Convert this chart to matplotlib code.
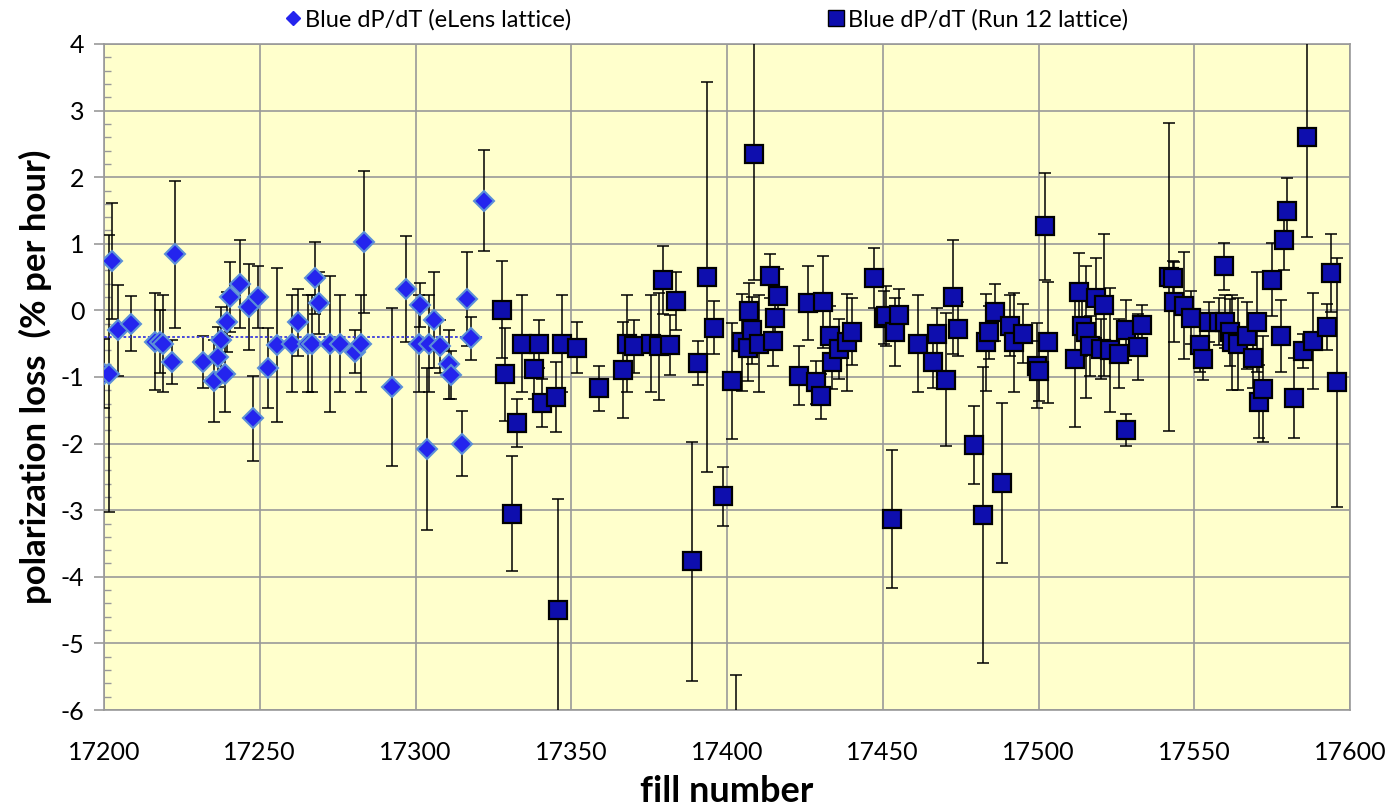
import matplotlib
matplotlib.use('Agg')
import matplotlib.pyplot as plt
from matplotlib.lines import Line2D
from matplotlib.ticker import MultipleLocator

plt.rcParams['font.family'] = ['Lato', 'DejaVu Sans']

# eLens lattice (diamonds)
elens_fill = [17200.0, 17201.5, 17202.7, 17204.6, 17208.8, 17216.4, 17218.0, 17218.8, 17221.7, 17222.7,
              17231.9, 17235.2, 17236.7, 17237.5, 17238.7, 17239.5, 17240.4, 17243.8, 17246.5, 17247.8,
              17249.5, 17252.7, 17255.6, 17260.5, 17262.4, 17265.5, 17266.9, 17267.7, 17269.0, 17272.5,
              17275.9, 17280.5, 17282.6, 17283.5, 17292.6, 17296.8, 17301.0, 17301.6, 17303.8, 17304.4,
              17305.8, 17308.0, 17310.7, 17311.5, 17315.0, 17316.6, 17317.8, 17321.9]
elens_loss = [-0.95, -0.95, 0.74, -0.30, -0.20, -0.47, -0.47, -0.50, -0.77, 0.84,
              -0.78, -1.06, -0.70, -0.45, -0.95, -0.17, 0.20, 0.40, 0.05, -1.62,
              0.20, -0.87, -0.52, -0.50, -0.18, -0.50, -0.50, 0.48, 0.11, -0.50,
              -0.50, -0.62, -0.50, 1.03, -1.15, 0.32, -0.50, 0.08, -2.08, -0.50,
              -0.15, -0.54, -0.81, -0.97, -2.00, 0.17, -0.42, 1.65]
elens_err = [0.52, 2.08, 0.87, 0.68, 0.41, 0.73, 0.47, 0.73, 0.33, 1.10,
             0.39, 0.61, 0.45, 0.50, 0.57, 0.45, 0.53, 0.66, 0.64, 0.64,
             0.47, 0.60, 1.15, 0.73, 0.50, 0.73, 0.73, 0.54, 0.46, 1.02,
             0.73, 0.32, 0.73, 1.07, 1.18, 0.80, 0.73, 0.33, 1.22, 0.73,
             0.72, 0.40, 0.52, 0.36, 0.49, 0.70, 0.32, 0.76]
elens_avg = -0.40
elens_avg_range = [17200, 17322]

# Run 12 lattice (squares)
run12_fill = [17327.8, 17328.8, 17331.0, 17332.7, 17334.3, 17338.0, 17339.6, 17340.7, 17345.0, 17345.8,
              17346.9, 17351.9, 17358.9, 17366.7, 17367.8, 17370.0, 17375.6, 17378.3, 17379.4, 17381.6,
              17383.6, 17388.7, 17390.7, 17393.6, 17395.8, 17398.7, 17401.5, 17402.8, 17404.7, 17406.6,
              17407.1, 17407.9, 17408.7, 17410.3, 17413.9, 17414.9, 17415.5, 17416.5, 17423.1, 17426.0,
              17428.7, 17430.2, 17430.8, 17433.0, 17433.8, 17435.9, 17438.4, 17440.2, 17447.1, 17450.4,
              17451.1, 17453.1, 17454.0, 17455.1, 17461.2, 17466.2, 17467.3, 17470.4, 17472.4, 17474.3,
              17479.3, 17482.3, 17483.3, 17484.0, 17485.9, 17488.3, 17491.0, 17492.1, 17495.0, 17499.5,
              17500.1, 17502.1, 17503.0, 17511.8, 17513.1, 17514.0, 17515.2, 17516.5, 17518.4, 17520.0,
              17520.9, 17523.1, 17526.0, 17528.1, 17528.1, 17531.8, 17533.1, 17542.0, 17543.1, 17543.6,
              17546.8, 17549.0, 17552.0, 17552.7, 17554.8, 17558.0, 17559.5, 17559.9, 17561.5, 17562.0,
              17564.1, 17566.8, 17568.9, 17570.0, 17570.9, 17572.2, 17574.8, 17577.8, 17578.9, 17579.7,
              17582.0, 17584.8, 17586.1, 17588.0, 17592.5, 17593.8, 17595.7]
run12_loss = [0.01, -0.96, -3.05, -1.69, -0.50, -0.88, -0.50, -1.39, -1.30, -4.50,
              -0.50, -0.56, -1.17, -0.89, -0.50, -0.54, -0.50, -0.54, 0.46, -0.52,
              0.14, -3.77, -0.79, 0.50, -0.26, -2.79, -1.06, -7.60, -0.48, -0.56,
              -0.01, -0.30, 2.35, -0.50, 0.52, -0.46, -0.11, 0.22, -0.98, 0.11,
              -1.08, -1.29, 0.12, -0.38, -0.78, -0.58, -0.48, -0.32, 0.48, -0.11,
              -0.08, -3.13, -0.33, -0.07, -0.50, -0.77, -0.36, -1.04, 0.20, -0.28,
              -2.02, -3.07, -0.48, -0.33, -0.03, -2.59, -0.23, -0.48, -0.35, -0.83,
              -0.91, 1.26, -0.48, -0.73, 0.28, -0.24, -0.33, -0.53, 0.19, -0.58,
              0.08, -0.59, -0.65, -0.30, -1.80, -0.55, -0.22, 0.50, 0.48, 0.13,
              0.07, -0.11, -0.52, -0.73, -0.17, -0.17, 0.66, -0.17, -0.33, -0.48,
              -0.50, -0.38, -0.71, -0.17, -1.37, -1.18, 0.46, -0.38, 1.06, 1.49,
              -1.32, -0.61, 2.60, -0.46, -0.25, 0.56, -1.08]
run12_err = [0.73, 0.70, 0.87, 0.36, 0.73, 0.45, 0.36, 0.36, 0.53, 1.67,
             0.73, 0.38, 0.34, 0.72, 0.73, 0.40, 0.73, 0.80, 0.51, 0.45,
             0.44, 1.80, 0.33, 2.93, 0.40, 0.44, 0.87, 2.13, 0.73, 0.50,
             0.42, 0.50, 1.90, 0.73, 0.33, 0.37, 0.40, 0.40, 0.44, 0.56,
             0.32, 0.34, 0.69, 0.45, 0.40, 0.45, 0.73, 0.50, 0.45, 0.40,
             0.45, 1.04, 0.51, 0.39, 0.73, 0.39, 0.40, 1.00, 0.86, 0.41,
             0.58, 2.22, 0.73, 0.40, 0.43, 1.20, 0.46, 0.74, 0.44, 0.64,
             0.45, 0.81, 0.91, 1.02, 0.58, 0.45, 0.99, 0.45, 0.60, 0.45,
             1.07, 0.93, 0.52, 0.45, 0.24, 0.49, 0.30, 2.31, 0.26, 0.60,
             0.80, 0.40, 0.40, 0.31, 0.30, 0.35, 0.35, 0.40, 0.50, 0.71,
             0.69, 0.50, 0.45, 0.75, 0.55, 0.79, 0.55, 0.54, 0.45, 0.50,
             0.60, 0.26, 1.50, 0.72, 0.35, 0.59, 1.87]

fig = plt.figure(figsize=(13.95, 8.08), dpi=100)
ax = fig.add_axes([104 / 1395, 1 - 710 / 808, (1350 - 104) / 1395, (710 - 44) / 808])
ax.set_facecolor('#FFFFCC')

# error bars first, markers on top
ax.errorbar(elens_fill, elens_loss, yerr=elens_err, fmt='none', ecolor='black',
            elinewidth=1.1, capsize=4, capthick=1.1, zorder=3)
ax.plot(elens_avg_range, [elens_avg, elens_avg], color='#3A3ADC', lw=1.3,
        linestyle=(0, (1.5, 1.2)), zorder=3)
ax.plot(elens_fill, elens_loss, linestyle='none', marker='D', ms=10.5,
        mfc='#2424EE', mec='#5B8FD8', mew=1.5, zorder=4)

ax.errorbar(run12_fill, run12_loss, yerr=run12_err, fmt='none', ecolor='black',
            elinewidth=1.1, capsize=4, capthick=1.1, zorder=5)
ax.plot(run12_fill, run12_loss, linestyle='none', marker='s', ms=13.5,
        mfc='#0E0EAE', mec='black', mew=1.6, zorder=6)

ax.set_xlim(17200, 17600)
ax.set_ylim(-6, 4)
ax.xaxis.set_major_locator(MultipleLocator(50))
ax.yaxis.set_major_locator(MultipleLocator(1))
ax.yaxis.set_minor_locator(MultipleLocator(0.2))
ax.grid(True, which='major', color='#999999', lw=1.2)
ax.set_axisbelow(True)
for s in ax.spines.values():
    s.set_color('#999999')
    s.set_linewidth(1.2)

ax.tick_params(axis='x', length=0, pad=22, labelsize=18)
ax.tick_params(axis='y', which='major', direction='out', length=7, width=1.2,
               color='#999999', pad=7, labelsize=18)
ax.tick_params(axis='y', which='minor', direction='in', length=5, width=1.0, color='#999999')
ax.set_yticks(range(-6, 5))
ax.set_yticklabels([str(v) for v in range(-6, 5)])

ax.set_xlabel('fill number', fontsize=26, fontweight='bold', labelpad=8)
ax.set_ylabel('polarization loss  (% per hour)', fontsize=25, fontweight='bold', labelpad=6)

h1 = Line2D([], [], linestyle='none', marker='D', ms=7, mfc='#2424EE', mec='#2424EE')
h2 = Line2D([], [], linestyle='none', marker='s', ms=12, mfc='#0E0EAE', mec='black', mew=1)
fig.legend([h1], ['Blue dP/dT (eLens lattice)'], loc='center left', frameon=False,
           bbox_to_anchor=(286 / 1395, 1 - 20 / 808), fontsize=17,
           handlelength=0.6, handletextpad=0.2, borderpad=0, borderaxespad=0)
fig.legend([h2], ['Blue dP/dT (Run 12 lattice)'], loc='center left', frameon=False,
           bbox_to_anchor=(829 / 1395, 1 - 20 / 808), fontsize=17,
           handlelength=0.6, handletextpad=0.2, borderpad=0, borderaxespad=0)

fig.savefig('out.png', dpi=100)
